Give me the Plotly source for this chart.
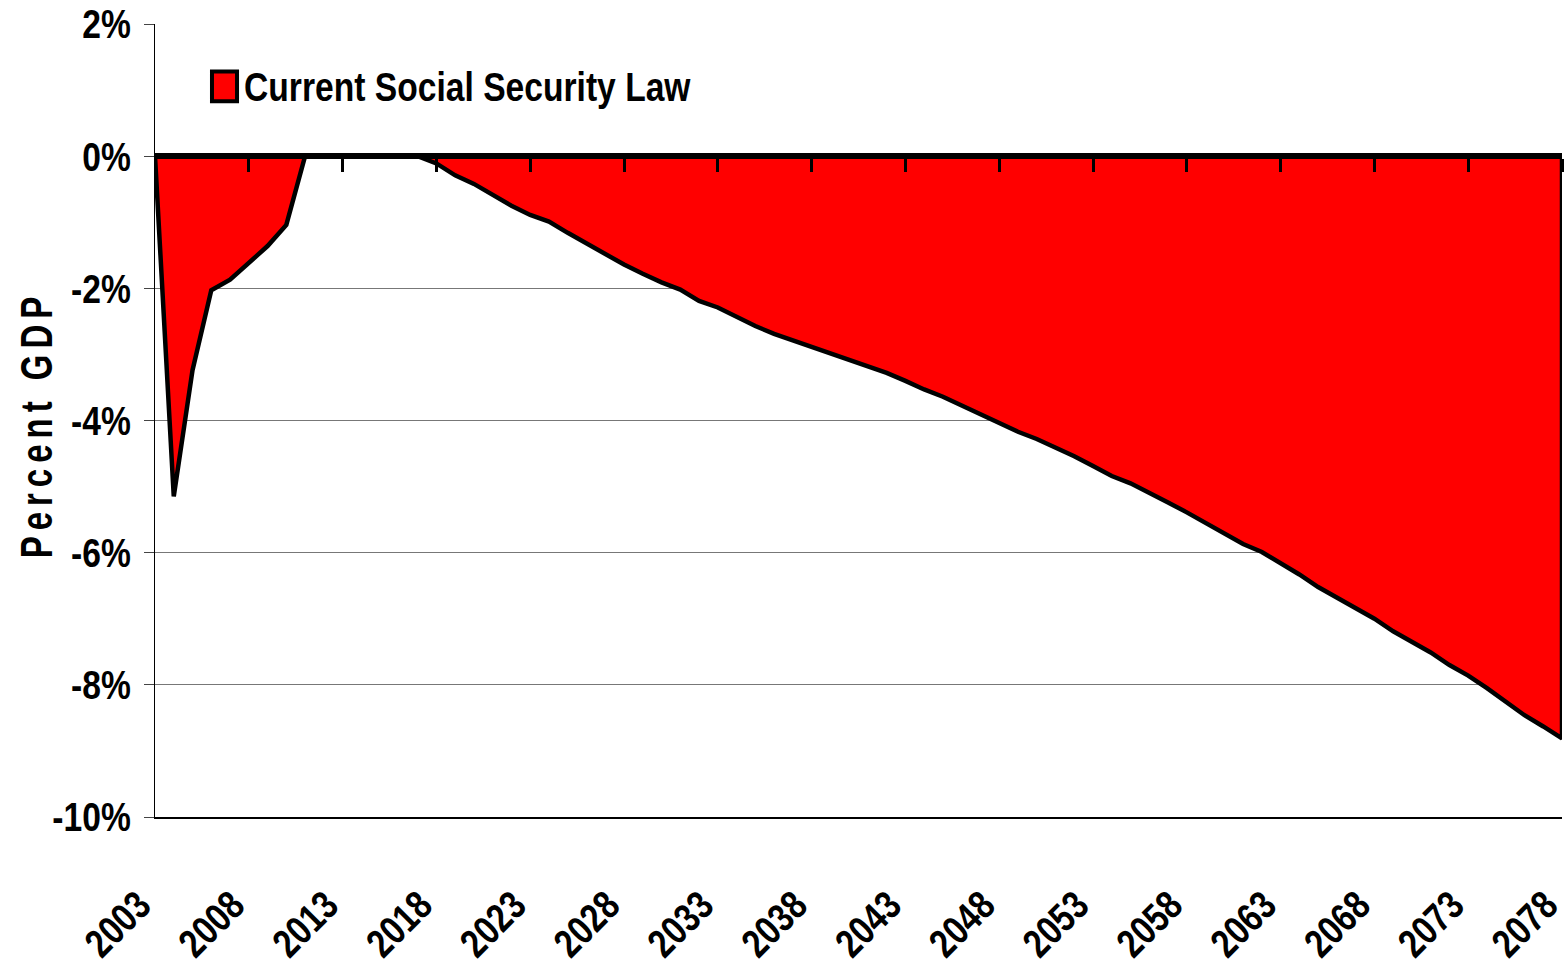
import plotly.graph_objects as go

# Social Security balance as a share of GDP under current law
years = list(range(2003, 2079))
balance_pct_gdp = [
    0.00, -5.15, -3.24, -2.03, -1.87, -1.62, -1.36, -1.04, 0.00, 0.00,
    0.00, 0.00, 0.00, 0.00, 0.00, -0.11, -0.29, -0.42, -0.59, -0.75,
    -0.89, -0.99, -1.16, -1.32, -1.48, -1.64, -1.78, -1.91, -2.02, -2.19,
    -2.29, -2.43, -2.57, -2.69, -2.79, -2.89, -2.99, -3.09, -3.18, -3.28,
    -3.40, -3.53, -3.64, -3.77, -3.91, -4.04, -4.17, -4.28, -4.41, -4.54,
    -4.69, -4.84, -4.95, -5.09, -5.24, -5.39, -5.55, -5.71, -5.87, -5.99,
    -6.16, -6.33, -6.52, -6.68, -6.84, -7.00, -7.19, -7.35, -7.51, -7.70,
    -7.86, -8.05, -8.26, -8.46, -8.63, -8.81,
]
series_name = "Current Social Security Law"
y_title = "Percent GDP"

x_tick_years = list(range(2003, 2079, 5))
x_tick_labels = [str(y) for y in x_tick_years]
y_tick_values = [-10, -8, -6, -4, -2, 0, 2]
y_tick_labels = ["-10%", "-8%", "-6%", "-4%", "-2%", "0%", "2%"]

FONT = "Liberation Sans, Arial, sans-serif"

# closed area: the series, then back along the zero baseline
area_x = years + [years[-1], years[0]]
area_y = balance_pct_gdp + [0, 0]

fig = go.Figure()
fig.add_trace(go.Scatter(
    x=area_x, y=area_y, mode="lines", fill="toself",
    fillcolor="#FF0000",
    line=dict(color="black", width=4.5),
    name=series_name, showlegend=False, hoverinfo="skip",
))
# carrier trace for the zero-line axis with its tick marks
fig.add_trace(go.Scatter(
    x=[years[0]], y=[0], xaxis="x2", mode="none",
    showlegend=False, hoverinfo="skip",
))

fig.update_layout(
    template="none",
    width=1564, height=971,
    margin=dict(l=155, r=2, t=24, b=154),
    paper_bgcolor="white", plot_bgcolor="white",
    xaxis=dict(
        range=[years[0], years[-1]], automargin=False,
        tickmode="array", tickvals=x_tick_years, ticktext=x_tick_labels,
        tickangle=-45, ticks="", ticklabelstandoff=47, ticklabelshift=-16,
        ticklabeloverflow="allow",
        tickfont=dict(family=FONT, size=40, color="black", weight="bold"),
        showline=True, linecolor="black", linewidth=1.5,
        showgrid=False, zeroline=False,
    ),
    xaxis2=dict(
        range=[years[0], years[-1]], overlaying="x", anchor="free",
        position=10 / 12, side="bottom", automargin=False,
        tickmode="array", tickvals=x_tick_years, showticklabels=False,
        ticks="outside", ticklen=13, tickwidth=3, tickcolor="black",
        showline=True, linecolor="black", linewidth=6,
        showgrid=False, zeroline=False,
    ),
    yaxis=dict(
        range=[-10, 2], automargin=False,
        tickmode="array", tickvals=y_tick_values, ticktext=y_tick_labels,
        ticks="outside", ticklen=10, tickwidth=1, tickcolor="#444",
        ticklabelstandoff=5,
        tickfont=dict(family=FONT, size=41, color="black", weight="bold"),
        showline=True, linecolor="black", linewidth=1,
        showgrid=True, gridcolor="#777", gridwidth=1,
        zeroline=False,
    ),
    shapes=[dict(
        type="rect", xref="paper", yref="paper",
        x0=0.0405, x1=0.0583, y0=0.9025, y1=0.9400,
        fillcolor="#FF0000", line=dict(color="black", width=4),
    )],
    annotations=[
        dict(
            xref="paper", yref="paper", x=0.2221, y=0.921,
            xanchor="center", yanchor="middle", showarrow=False,
            text=series_name,
            font=dict(family=FONT, size=41, color="black", weight="bold"),
        ),
        dict(
            xref="paper", yref="paper", x=-0.0846, y=0.4955,
            xanchor="center", yanchor="middle", showarrow=False,
            textangle=-90, text=y_title,
            font=dict(family=FONT, size=44, color="black", weight="bold"),
        ),
    ],
)

# narrow-face look for labels (horizontal squeeze about each label's anchor);
# the vertical axis title is squeezed harder and letter-spaced
text_js = """
var gd = document.getElementById('{plot_id}');
function squeeze(el, k) {
  var cur = el.getAttribute('transform') || '';
  if (el.getAttribute('data-set-tf') !== cur) {
    el.setAttribute('data-orig-tf', cur);
  }
  var orig = el.getAttribute('data-orig-tf') || '';
  el.setAttribute('transform', orig);
  var b = el.getBBox();
  var a = el.getAttribute('text-anchor') || 'start';
  var px = a === 'end' ? b.x + b.width : (a === 'middle' ? b.x + b.width / 2 : b.x);
  var py = b.y + b.height / 2;
  var tf = orig + ' translate(' + px + ',' + py + ') scale(' + k + ',1) translate(' + (-px) + ',' + (-py) + ')';
  el.setAttribute('transform', tf);
  el.setAttribute('data-set-tf', tf);
}
function styleText() {
  gd.querySelectorAll('.xtick text, .ytick text').forEach(function (t) { squeeze(t, 0.82); });
  gd.querySelectorAll('.annotation-text').forEach(function (t) {
    if (t.textContent.replace(/\\s+/g, ' ').trim() === 'Percent GDP') {
      t.style.letterSpacing = '8px';
      squeeze(t, 0.75);
    } else {
      squeeze(t, 0.82);
    }
  });
}
styleText();
setTimeout(styleText, 50);
if (gd.on) { gd.on('plotly_afterplot', styleText); }
"""

fig.write_html("out.html", post_script=text_js)
